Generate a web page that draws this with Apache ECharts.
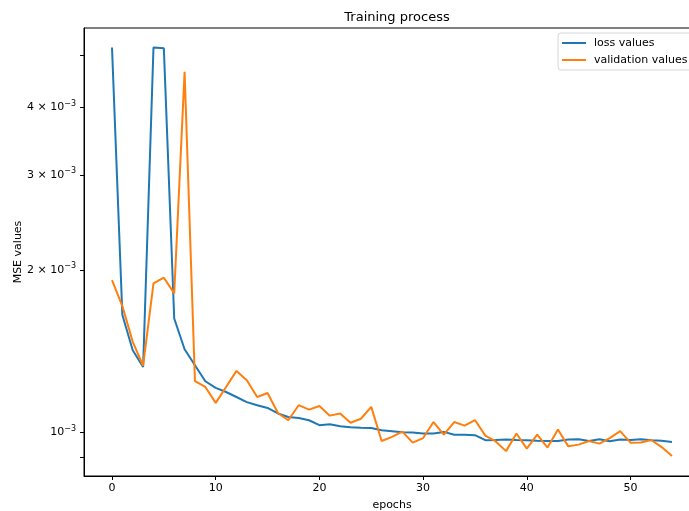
<!DOCTYPE html>
<html>
<head>
<meta charset="utf-8">
<script src="https://cdn.jsdelivr.net/npm/echarts@6/dist/echarts.min.js"></script>
<style>
  html, body { margin: 0; padding: 0; overflow: hidden; background: #fff; }
  /* matplotlib figure is clipped on the right, so the canvas is a bit wider than the window */
  #chart { width: 700px; height: 511px; }
</style>
</head>
<body>
<div id="chart"></div>
<script>
// training curves, one value per epoch (0..54)
const lossValues = [
  5.17e-3, 1.651e-3, 1.421e-3, 1.323e-3, 5.17e-3, 5.15e-3, 1.627e-3, 1.427e-3, 1.333e-3, 1.245e-3,
  1.210e-3, 1.189e-3, 1.164e-3, 1.139e-3, 1.124e-3, 1.111e-3, 1.085e-3, 1.069e-3, 1.064e-3, 1.054e-3,
  1.032e-3, 1.036e-3, 1.027e-3, 1.023e-3, 1.021e-3, 1.020e-3, 1.010e-3, 1.006e-3, 1.001e-3, 1.000e-3,
  0.996e-3, 0.996e-3, 1.003e-3, 0.991e-3, 0.991e-3, 0.989e-3, 0.968e-3, 0.969e-3, 0.971e-3, 0.969e-3,
  0.968e-3, 0.966e-3, 0.965e-3, 0.965e-3, 0.971e-3, 0.972e-3, 0.965e-3, 0.972e-3, 0.964e-3, 0.971e-3,
  0.969e-3, 0.972e-3, 0.968e-3, 0.966e-3, 0.961e-3
];
const validationValues = [
  1.917e-3, 1.715e-3, 1.473e-3, 1.330e-3, 1.890e-3, 1.936e-3, 1.811e-3, 4.660e-3, 1.245e-3, 1.215e-3,
  1.135e-3, 1.215e-3, 1.301e-3, 1.250e-3, 1.164e-3, 1.184e-3, 1.087e-3, 1.054e-3, 1.124e-3, 1.103e-3,
  1.120e-3, 1.075e-3, 1.085e-3, 1.043e-3, 1.061e-3, 1.116e-3, 0.965e-3, 0.982e-3, 1.004e-3, 0.958e-3,
  0.977e-3, 1.046e-3, 0.991e-3, 1.046e-3, 1.030e-3, 1.055e-3, 0.987e-3, 0.963e-3, 0.924e-3, 0.996e-3,
  0.934e-3, 0.991e-3, 0.938e-3, 1.013e-3, 0.943e-3, 0.950e-3, 0.965e-3, 0.954e-3, 0.977e-3, 1.006e-3,
  0.958e-3, 0.959e-3, 0.969e-3, 0.940e-3, 0.905e-3
];

const xTicks = [0, 10, 20, 30, 40, 50];
const yLabelTicks = [1e-3, 2e-3, 3e-3, 4e-3];
const yAllTicks = [9e-4, 1e-3, 2e-3, 3e-3, 4e-3, 5e-3];
const yLabelText = { '0.001': '', '0.002': '2 × ', '0.003': '3 × ', '0.004': '4 × ' };

const FONT = 'DejaVu Sans';

const chart = echarts.init(document.getElementById('chart'));

chart.setOption({
  animation: false,
  title: {
    text: 'Training process',
    left: 392, top: 6, textAlign: 'center',
    textStyle: { fontFamily: FONT, fontSize: 13, fontWeight: 'normal', color: '#000' }
  },
  legend: {
    orient: 'vertical',
    left: 558, top: 33,
    padding: [4, 6, 4, 4],
    itemWidth: 24, itemHeight: 2, itemGap: 5,
    icon: 'rect',
    backgroundColor: 'rgba(255,255,255,0.8)',
    borderColor: '#d6d6d6', borderWidth: 1, borderRadius: 3,
    textStyle: { fontFamily: FONT, fontSize: 11, color: '#000', lineHeight: 12, padding: [0, 0, 0, 3] },
    data: ['loss values', 'validation values']
  },
  grid: {
    left: 84, top: 28, right: 0, bottom: 35,
    outerBoundsMode: 'none', containLabel: false,
    show: true, borderColor: '#000', borderWidth: 1, backgroundColor: 'transparent'
  },
  xAxis: {
    type: 'value',
    min: -2.7, max: 56.7,
    name: 'epochs', nameLocation: 'middle', nameGap: 24, nameMoveOverlap: false,
    nameTextStyle: { fontFamily: FONT, fontSize: 11, color: '#000' },
    axisLine: { show: true, onZero: false, lineStyle: { color: '#000', width: 1 } },
    axisTick: { show: true, length: 4, lineStyle: { color: '#000' }, customValues: xTicks },
    axisLabel: { fontFamily: FONT, fontSize: 11, color: '#000', margin: 7, customValues: xTicks },
    splitLine: { show: false }
  },
  yAxis: {
    type: 'log', logBase: 10,
    min: 0.000831, max: 0.005617,
    name: 'MSE values', nameLocation: 'middle', nameGap: 60, nameMoveOverlap: false,
    nameTextStyle: { fontFamily: FONT, fontSize: 11, color: '#000' },
    axisLine: { show: true, onZero: false, lineStyle: { color: '#000', width: 1 } },
    axisTick: { show: true, length: 4, lineStyle: { color: '#000' }, customValues: yAllTicks },
    axisLabel: {
      fontFamily: FONT, fontSize: 11, color: '#000', margin: 8,
      customValues: yLabelTicks,
      formatter: (v) => {
        const key = String(+v.toPrecision(3));
        return '{b|' + (yLabelText[key] || '') + '10}{s|−3}';
      },
      rich: {
        b: { fontFamily: FONT, fontSize: 11, color: '#000' },
        s: { fontFamily: FONT, fontSize: 8, color: '#000', padding: [0, 0, 8, 0] }
      }
    },
    splitLine: { show: false }
  },
  series: [
    {
      name: 'loss values', type: 'line',
      data: lossValues.map((v, i) => [i, v]),
      showSymbol: false, symbol: 'none',
      color: '#1f77b4',
      lineStyle: { width: 2, color: '#1f77b4' }
    },
    {
      name: 'validation values', type: 'line',
      data: validationValues.map((v, i) => [i, v]),
      showSymbol: false, symbol: 'none',
      color: '#ff7f0e',
      lineStyle: { width: 2, color: '#ff7f0e' }
    }
  ]
});
</script>
</body>
</html>
